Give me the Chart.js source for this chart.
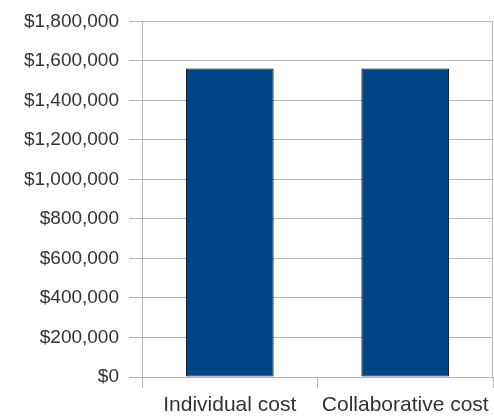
<!DOCTYPE html>
<html>
<head>
<meta charset="utf-8">
<script src="https://cdn.jsdelivr.net/npm/chart.js@4/dist/chart.umd.min.js"></script>
<style>
  html, body { margin: 0; padding: 0; background: #ffffff; }
  #wrap { width: 494px; height: 420px; position: relative; }
</style>
</head>
<body>
<div id="wrap"><canvas id="c" width="494" height="420"></canvas></div>
<script>
const categories = ["Individual cost", "Collaborative cost"];
const costValues = [1562000, 1562000];
const yTickMin = 0;
const yTickMax = 1800000;
const yTickStep = 200000;

const gridColor = "#b8b8b8";

const frame = {
  id: "frame",
  afterDraw(chart) {
    const a = chart.chartArea, ctx = chart.ctx;
    ctx.save();
    ctx.strokeStyle = gridColor;
    ctx.lineWidth = 1;
    ctx.strokeRect(Math.round(a.left) + 0.5, Math.round(a.top) + 0.5,
                   Math.round(a.right - a.left) - 1, Math.round(a.bottom - a.top));
    ctx.restore();
  }
};

new Chart(document.getElementById("c"), {
  type: "bar",
  data: {
    labels: categories,
    datasets: [{
      data: costValues,
      backgroundColor: "#004586",
      borderColor: "#000000",
      borderWidth: 1,
      borderSkipped: false,
      barPercentage: 0.5,
      categoryPercentage: 1.0
    }]
  },
  options: {
    responsive: false,
    animation: false,
    devicePixelRatio: 1,
    layout: { padding: { top: 18, right: 1, left: 0, bottom: 0 } },
    plugins: { legend: { display: false }, tooltip: { enabled: false } },
    scales: {
      x: {
        offset: true,
        grid: { offset: true, drawOnChartArea: false, drawTicks: true, tickLength: 11, color: gridColor },
        border: { color: gridColor },
        ticks: { color: "#333333", font: { family: "Liberation Sans", size: 21 }, padding: 5, maxRotation: 0, autoSkip: false },
        afterFit(s) { s.height = 43; }
      },
      y: {
        min: yTickMin,
        max: yTickMax,
        grid: { color: gridColor, tickLength: 13 },
        border: { color: gridColor },
        ticks: {
          stepSize: yTickStep,
          color: "#333333",
          padding: 10,
          font: { family: "Liberation Sans", size: 19 },
          callback: v => "$" + Number(v).toLocaleString("en-US")
        },
        afterFit(s) { s.width = 142; }
      }
    }
  },
  plugins: [frame]
});
</script>
</body>
</html>
